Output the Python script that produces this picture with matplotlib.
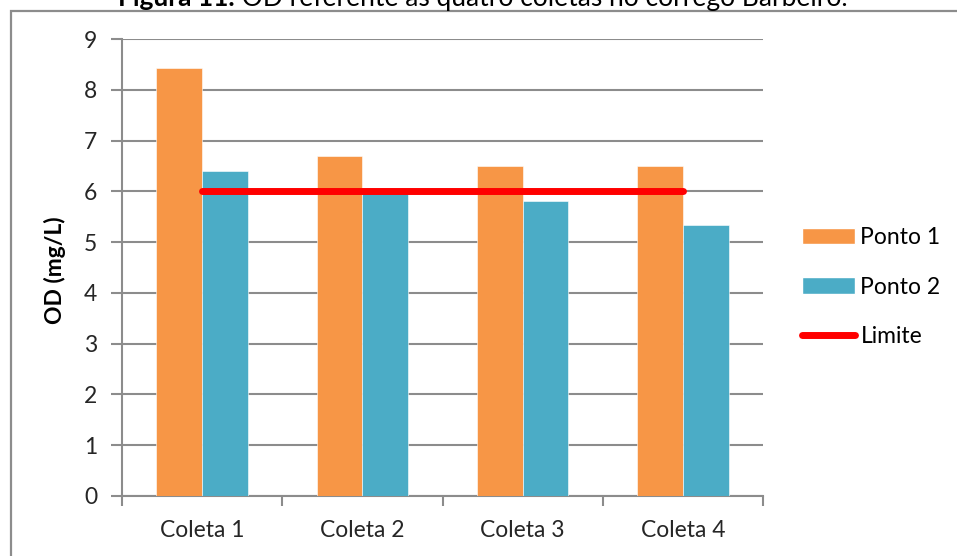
import matplotlib
matplotlib.use("Agg")
import matplotlib.pyplot as plt
from matplotlib.patches import Rectangle
from matplotlib.lines import Line2D
from matplotlib.patches import Patch
import numpy as np

categories = ["Coleta 1", "Coleta 2", "Coleta 3", "Coleta 4"]
ponto1 = [8.42, 6.7, 6.5, 6.5]
ponto2 = [6.4, 6.0, 5.8, 5.33]
limite = [6, 6, 6, 6]
yticks = [0, 1, 2, 3, 4, 5, 6, 7, 8, 9]
title_bold = "Figura 11."
title_rest = " OD referente às quatro coletas no córrego Barbeiro."

plt.rcParams['font.family'] = ['Lato', 'DejaVu Sans']
FS = 16.5
W, H = 957, 556
fig = plt.figure(figsize=(W / 100, H / 100), dpi=100)

# border of the chart area (extends beyond right/bottom)
fig.patches.append(Rectangle((11 / W, -0.05), 1.2, 1 - 11 / H + 0.05,
                             transform=fig.transFigure, fill=False,
                             edgecolor='#8c8c8c', lw=1.6))

ax = fig.add_axes([122 / W, 1 - 496 / H, (763 - 122) / W, (496 - 39) / H])
x = np.arange(len(categories))
bw = 0.2857
grid_c = '#8c8c8c'
ax.bar(x - bw / 2, ponto1, bw, color='#F79646', edgecolor='white', lw=0.4, zorder=3, label='Ponto 1')
ax.bar(x + bw / 2, ponto2, bw, color='#4BACC6', edgecolor='white', lw=0.4, zorder=3, label='Ponto 2')
ax.plot(x, limite, color='#FF0000', lw=5, solid_capstyle='round', zorder=4, label='Limite')

ax.set_xlim(-0.5, len(categories) - 0.5)
ax.set_ylim(0, 9)
ax.set_yticks(yticks)
ax.set_yticklabels([str(v) for v in yticks], fontsize=FS, color='#262626')
ax.yaxis.grid(True, color=grid_c, lw=1.5, zorder=0)
ax.set_axisbelow(True)

ax.set_xticks(np.arange(-0.5, len(categories), 1.0))
ax.set_xticklabels([])
ax.set_xticks(x, minor=True)
ax.set_xticklabels(categories, minor=True, fontsize=FS, color='#262626')
ax.tick_params(axis='x', which='major', direction='out', length=7, width=1.5, color=grid_c)
ax.tick_params(axis='x', which='minor', length=0, pad=17.5)
ax.tick_params(axis='y', direction='out', length=8, width=1.5, color=grid_c, pad=10)
for s in ['top', 'right']:
    ax.spines[s].set_visible(False)
for s in ['left', 'bottom']:
    ax.spines[s].set_color(grid_c)
    ax.spines[s].set_linewidth(1.5)

fig.text(55 / W, 1 - 270 / H, "OD (mg/L)", rotation=90, fontsize=FS, fontweight='bold',
         ha='center', va='center', color='#000000')

handles = [Patch(facecolor='#F79646', edgecolor='white'),
           Patch(facecolor='#4BACC6', edgecolor='white'),
           Line2D([0], [0], color='#FF0000', lw=5, solid_capstyle='round')]
fig.legend(handles, ['Ponto 1', 'Ponto 2', 'Limite'], loc='center left',
           bbox_to_anchor=(802 / W, 1 - 287 / H), frameon=False, fontsize=FS,
           handlelength=2.3, handleheight=0.7, handletextpad=0.25, labelspacing=1.25,
           borderaxespad=0, borderpad=0)

# cut-off caption at the top (as in the reference)
TFS = 19
t1 = fig.text(118 / W, 1 - 6 / H, title_bold, fontsize=TFS, fontweight='bold',
              ha='left', va='baseline')
fig.canvas.draw()
bb = t1.get_window_extent()
fig.text(bb.x1 / W, 1 - 6 / H, title_rest, fontsize=TFS, ha='left', va='baseline')

fig.savefig("out.png", dpi=100)
